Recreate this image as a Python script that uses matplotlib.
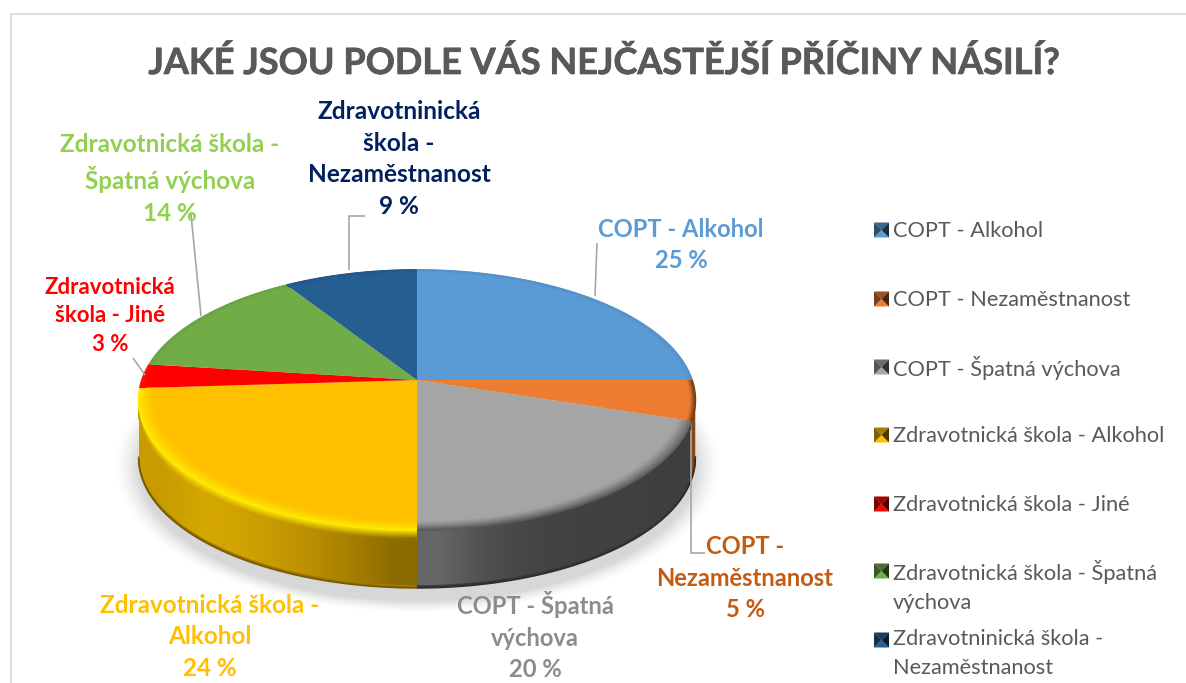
import numpy as np
import matplotlib
matplotlib.use("Agg")
import matplotlib.pyplot as plt
import matplotlib.patheffects as pe
from matplotlib.path import Path
from matplotlib.patches import PathPatch, Polygon
from matplotlib.transforms import Transform
from matplotlib.colors import to_rgb

plt.rcParams['font.family'] = ['Lato', 'Open Sans', 'DejaVu Sans']

TITLE = "JAKÉ JSOU PODLE VÁS NEJČASTĚJŠÍ PŘÍČINY NÁSILÍ?"
categories = ["COPT - Alkohol", "COPT - Nezaměstnanost", "COPT - Špatná výchova",
              "Zdravotnická škola - Alkohol", "Zdravotnická škola - Jiné",
              "Zdravotnická škola - Špatná\nvýchova", "Zdravotninická škola -\nNezaměstnanost"]
values = [25, 5, 20, 24, 3, 14, 9]
colors = ["#5B9BD5", "#ED7D31", "#A5A5A5", "#FFC000", "#FF0000", "#70AD47", "#255E91"]
label_texts = ["COPT - Alkohol\n25 %", "COPT -\nNezaměstnanost\n5 %", "COPT - Špatná\nvýchova\n20 %",
               "Zdravotnická škola -\nAlkohol\n24 %", "Zdravotnická\nškola - Jiné\n3 %",
               "Zdravotnická škola -\nŠpatná výchova\n14 %",
               "Zdravotninická\nškola -\nNezaměstnanost\n9 %"]
label_colors = ["#5B9BD5", "#C55A11", "#8C8C8C", "#FFC000", "#FF0000", "#92D050", "#002060"]
label_sizes = [17.1, 17.1, 17.1, 17.5, 16.0, 17.5, 17.6]
label_pos = [(681, 245), (745, 578), (535, 636), (210, 637), (110, 316), (170, 179), (399, 159)]
leaders = [[(595, 296), (597, 243)],
           [(691, 430), (691, 553), (705, 553)],
           [],
           [],
           [(145, 375), (133, 358)],
           [(201, 316), (191, 214)],
           [(349, 270), (349, 216), (365, 216)]]
legend_y = [230, 299, 367, 435, 504, 571, 640]

W, H = 1186, 683
CX, CY = 417, 380
D, A, C = 275.0, 126.9, 0.1538
DEPTH = 58


class Perspective(Transform):
    input_dims = output_dims = 2
    is_affine = False
    has_inverse = False

    def transform_non_affine(self, xy):
        xy = np.asarray(xy, dtype=float)
        w = 1 + C * xy[:, 1]
        return np.column_stack((CX + D * xy[:, 0] / w, CY - A * xy[:, 1] / w))


persp = Perspective()


def rim_xy(theta_deg, r=1.0):
    t = np.radians(theta_deg)
    return persp.transform_non_affine(np.column_stack((r * np.cos(t), r * np.sin(t))))


def blend(a, b, f):
    a, b = np.array(to_rgb(a)), np.array(to_rgb(b))
    return tuple(a + (b - a) * f)


fig = plt.figure(figsize=(W / 100, H / 100), dpi=100)
ax = fig.add_axes([0, 0, 1, 1])

# soft shadow under the pie
yy, xx = np.mgrid[0:H, 0:W]
e = np.sqrt(((xx - 417) / 284.0) ** 2 + ((yy - 466) / 137.0) ** 2)
alpha = np.clip((1.07 - e) / 0.09, 0, 1) ** 1.5 * 0.28
shadow = np.zeros((H, W, 4))
shadow[..., :3] = 0.45
shadow[..., 3] = alpha
ax.imshow(shadow, extent=(0, W, H, 0), zorder=0, aspect='auto', interpolation='nearest')

# side wall
wall_ramps = {1: ["#8A4A18", "#7A3F12", "#B0601C"],
              2: ["#666666", "#505050", "#454545", "#424242", "#414141", "#3E3E3E"],
              3: ["#C89C00", "#D6A800", "#CCA000", "#BE9200", "#A88000", "#8C6C00"]}
rim_colors = {0: "#4A7FB0", 1: "#7A3F12", 2: "#5A5A5A", 3: "#FFE800", 4: "#FF3000", 5: "#628F3E", 6: "#1D4A72"}
edges = 90 - 3.6 * np.cumsum([0] + values)
SIL_R, SIL_L = -8.9, -171.0

for i in (1, 2, 3):
    a0 = max(edges[i + 1], SIL_L)
    a1 = min(edges[i], SIL_R)
    th = np.linspace(a1, a0, 90)
    top = rim_xy(th)
    bottom = top + [0, DEPTH]
    verts = np.vstack((top, bottom[::-1], top[:1]))
    ramp = np.array([to_rgb(c) for c in wall_ramps[i]])[None, :, :]
    xmin, xmax = verts[:, 0].min(), verts[:, 0].max()
    ymin, ymax = verts[:, 1].min(), verts[:, 1].max()
    im = ax.imshow(ramp, extent=(xmin, xmax, ymax, ymin), aspect='auto', interpolation='bilinear', zorder=1)
    im.set_clip_path(PathPatch(Path(verts), transform=ax.transData))
    # dark contact edge along the bottom of the wall
    mid = wall_ramps[i][len(wall_ramps[i]) // 2]
    edge = "#2A2A2A" if i != 3 else "#6A5000"
    for k, off in enumerate(np.linspace(-2, 0, 3)):
        ax.plot(bottom[:, 0], bottom[:, 1] + off, color=blend(mid, edge, (k + 1) / 3.5),
                lw=1.1, solid_capstyle='butt', zorder=1.5)

# the pie
wedges, _ = ax.pie(values, colors=colors, startangle=90, counterclock=False, radius=1,
                   wedgeprops=dict(linewidth=0, antialiased=True))
for w in wedges:
    w.set_transform(persp + ax.transData)
    w.set_zorder(2)
    w.set_clip_on(False)

# bevel on the rim of the top face and top of the wall
for i in range(len(values)):
    a1, a0 = edges[i], edges[i + 1]
    th = np.linspace(a1, a0, 90)
    front = np.sin(np.radians(th)) < -0.02
    base = colors[i]
    rim = rim_colors[i]
    if i == 3:
        for r, f in zip(np.linspace(0.94, 1.0, 14), np.linspace(0, 1, 14) ** 1.5):
            pts = rim_xy(th, r)
            ax.plot(pts[:, 0], pts[:, 1], color=blend(base, rim, f), lw=1.3, zorder=3, solid_capstyle='butt')
        pts = rim_xy(th)
        wall_x = np.array([to_rgb(c) for c in wall_ramps[3]])
        for off, f in zip(np.linspace(0.5, 9, 10), np.linspace(0, 1, 10)):
            for j in range(0, 89, 2):
                if not front[j] or th[min(j + 2, 89)] < SIL_L:
                    continue
                idx = (pts[j, 0] - 140) / 277 * 5
                lo = int(np.clip(np.floor(idx), 0, 4))
                wc = wall_x[lo] + (wall_x[lo + 1] - wall_x[lo]) * np.clip(idx - lo, 0, 1)
                ax.plot(pts[j:j + 3, 0], pts[j:j + 3, 1] + off, color=blend(rim, wc, f), lw=1.3, zorder=1.8,
                        solid_capstyle='butt')
    else:
        strength = 1.0 if i in (1, 2) else 0.4
        rs = np.linspace(0.95 if i == 2 else 0.98, 1.0, 8)
        for r, f in zip(rs, np.linspace(0, strength, 8) ** 1.3):
            pts = rim_xy(th, r)
            ax.plot(pts[:, 0], pts[:, 1], color=blend(base, rim, f), lw=1.3, zorder=3, solid_capstyle='butt')

# leader lines
for seg in leaders:
    if seg:
        xs, ys = zip(*seg)
        ax.plot(xs, ys, color="#A6A6A6", lw=1.2, zorder=4, solid_capstyle='butt')

# chart frame
ax.plot([W, 11, 11], [14, 14, H], color="#DDDDDD", lw=1.4, zorder=0.5)

# title
ax.text(604, 63, TITLE, ha='center', va='center', fontsize=26, fontweight='bold', color="#595959", zorder=5,
        path_effects=[pe.withStroke(linewidth=0.5, foreground="#595959")])

# data labels
for txt, col, size, (x, y) in zip(label_texts, label_colors, label_sizes, label_pos):
    ax.text(x, y, txt, ha='center', va='center', fontsize=size, fontweight='bold', color=col,
            linespacing=1.47, zorder=5)

# legend
for i, (cat, y) in enumerate(zip(categories, legend_y)):
    x0, x1, y0, y1 = 874, 889, y - 7.5, y + 7.5
    c = colors[i]
    m = (x0 + x1) / 2, (y0 + y1) / 2
    tl, tr, bl, br = (x0, y0), (x1, y0), (x0, y1), (x1, y1)
    for tri, f in (((tl, tr, m), 0.35), ((bl, br, m), 0.0), ((tl, bl, m), 0.5), ((tr, br, m), 0.7)):
        ax.add_patch(Polygon(tri, closed=True, facecolor=blend(c, "#000000", f), edgecolor='none', zorder=5))
    if '\n' in cat:
        ax.text(893, y - 11, cat, ha='left', va='top', fontsize=15.7, color="#595959", linespacing=1.55, zorder=5)
    else:
        ax.text(893, y + 1, cat, ha='left', va='center', fontsize=15.7, color="#595959", zorder=5)

ax.set_aspect('auto')
ax.set_xlim(0, W)
ax.set_ylim(H, 0)
ax.axis('off')
fig.savefig("out.png", dpi=100, facecolor='white')
